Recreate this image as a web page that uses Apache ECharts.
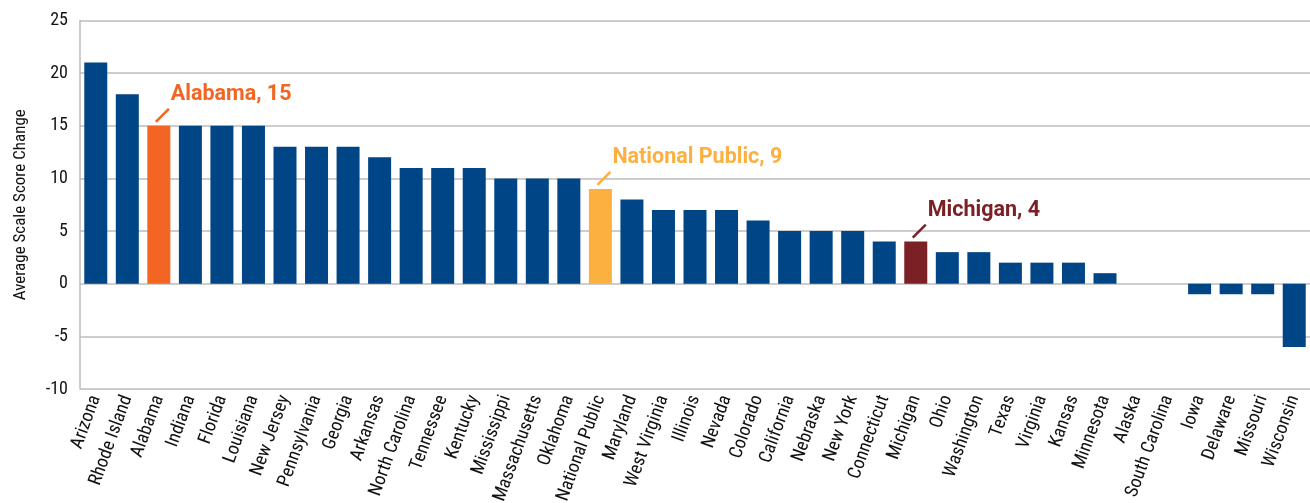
<!DOCTYPE html>
<html><head><meta charset="utf-8">
<script src="https://cdn.jsdelivr.net/npm/echarts@6/dist/echarts.min.js"></script>
<style>html,body{margin:0;padding:0;background:#fff}#c{width:1310px;height:503px}</style>
</head><body><div id="c"></div>
<script>
const categories = ["Arizona","Rhode Island","Alabama","Indiana","Florida","Louisiana","New Jersey","Pennsylvania","Georgia","Arkansas","North Carolina","Tennessee","Kentucky","Mississippi","Massachusetts","Oklahoma","National Public","Maryland","West Virginia","Illinois","Nevada","Colorado","California","Nebraska","New York","Connecticut","Michigan","Ohio","Washington","Texas","Virginia","Kansas","Minnesota","Alaska","South Carolina","Iowa","Delaware","Missouri","Wisconsin"];
const values = [21,18,15,15,15,15,13,13,13,12,11,11,11,10,10,10,9,8,7,7,7,6,5,5,5,4,4,3,3,2,2,2,1,0,0,-1,-1,-1,-6];
const yTicks = [-10,-5,0,5,10,15,20,25];
const highlights = [
  {name:"Alabama", color:"#F26522", text:"Alabama, 15"},
  {name:"National Public", color:"#FBB040", text:"National Public, 9"},
  {name:"Michigan", color:"#7B2025", text:"Michigan, 4"}
];
const baseColor = "#004586";
const narrow = "'Liberation Sans Narrow','Arial Narrow','Roboto Condensed',Roboto,sans-serif";

const chart = echarts.init(document.getElementById('c'), null, {renderer:'canvas'});
const data = values.map((v,i)=>{
  const h = highlights.find(x=>x.name===categories[i]);
  return {value:v, itemStyle:{color: h ? h.color : baseColor}};
});
chart.setOption({
  animation:false,
  grid:{left:80, right:0, top:20.5, bottom:114, containLabel:false, outerBoundsMode:'none'},
  xAxis:{type:'category', data:categories,
    axisLine:{show:false}, axisTick:{show:false},
    axisLabel:{rotate:70, interval:0, fontFamily:narrow, fontSize:18.5, color:'#111', margin:7}},
  yAxis:{type:'value', min:yTicks[0], max:yTicks[yTicks.length-1], interval:5,
    name:'Average Scale Score Change', nameLocation:'middle', nameGap:51, nameRotate:90,
    nameTextStyle:{fontFamily:narrow, fontSize:17, color:'#111'},
    axisLine:{show:true, lineStyle:{color:'#bdbdbd', width:1.5}}, axisTick:{show:false},
    axisLabel:{fontFamily:narrow, fontSize:18, color:'#111', margin:12},
    splitLine:{lineStyle:{color:'#bdbdbd', width:1.5}}},
  series:[{type:'bar', data:data, barWidth:23}]
});

function drawAnnotations(){
  const g = [];
  highlights.forEach(h=>{
    const i = categories.indexOf(h.name);
    const p = chart.convertToPixel({seriesIndex:0}, [i, values[i]]);
    const cx = p[0], ty = p[1];
    g.push({type:'line', shape:{x1:cx-3, y1:ty-4, x2:cx+10, y2:ty-17},
      style:{stroke:h.color, lineWidth:2.5}});
    g.push({type:'text', x:cx+12, y:ty-31,
      style:{text:h.text, fill:h.color, font:"bold 21.5px Roboto, sans-serif", textVerticalAlign:'middle', textAlign:'left'}});
  });
  chart.setOption({graphic:g});
}
drawAnnotations();
</script>
</body></html>
